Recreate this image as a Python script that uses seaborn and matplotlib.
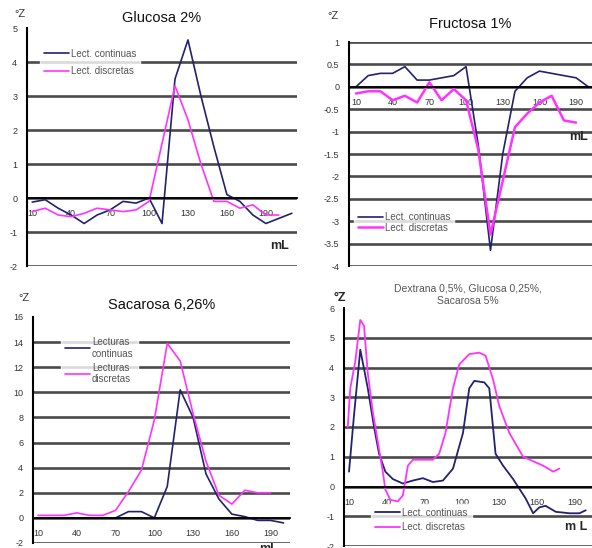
import numpy as np
import pandas as pd
import matplotlib
matplotlib.use("Agg")
import matplotlib.pyplot as plt
import seaborn as sns

# --- data (mL vs °Z) ---
ml_p1 = [10, 20, 30, 40, 50, 60, 70, 80, 90, 100, 110, 120, 130, 140, 150, 160, 170, 180, 190, 200, 210]
glu_cont = [-0.12, -0.05, -0.3, -0.5, -0.75, -0.5, -0.35, -0.1, -0.15, 0.0, -0.75, 3.5, 4.65, 3.0, 1.5, 0.1, -0.1, -0.5, -0.75, -0.6, -0.45]
ml_p1b = [10, 20, 30, 40, 50, 60, 70, 80, 90, 100, 110, 120, 130, 140, 150, 160, 170, 180, 190, 200]
glu_disc = [-0.4, -0.3, -0.5, -0.55, -0.45, -0.3, -0.35, -0.4, -0.35, -0.1, 1.6, 3.3, 2.3, 1.0, -0.1, -0.1, -0.3, -0.2, -0.5, -0.5]

ml_p2 = [10, 20, 30, 40, 50, 60, 70, 80, 90, 100, 110, 120, 130, 140, 150, 160, 170, 180, 190, 200]
fru_cont = [0.0, 0.25, 0.3, 0.3, 0.45, 0.15, 0.15, 0.2, 0.25, 0.45, -1.3, -3.65, -1.5, -0.1, 0.2, 0.35, 0.3, 0.25, 0.2, 0.0]
ml_p2b = [10, 20, 30, 40, 50, 60, 70, 80, 90, 100, 110, 120, 130, 140, 150, 160, 170, 180, 190]
fru_disc = [-0.15, -0.1, -0.1, -0.3, -0.2, -0.35, 0.1, -0.3, -0.05, -0.3, -1.4, -3.3, -2.1, -0.9, -0.6, -0.35, -0.2, -0.75, -0.8]

ml_p3 = [10, 20, 30, 40, 50, 60, 70, 80, 90, 100, 110, 120, 130, 140, 150, 160, 170, 180, 190, 200]
sac_cont = [0.0, 0.0, 0.0, 0.0, 0.0, 0.0, 0.0, 0.5, 0.5, 0.0, 2.5, 10.2, 8.0, 3.5, 1.5, 0.3, 0.1, -0.2, -0.2, -0.4]
ml_p3b = [10, 20, 30, 40, 50, 60, 70, 80, 90, 100, 110, 120, 130, 140, 150, 160, 170, 180, 190]
sac_disc = [0.2, 0.2, 0.2, 0.4, 0.2, 0.2, 0.6, 2.1, 3.8, 7.8, 13.9, 12.5, 8.3, 4.5, 1.8, 1.1, 2.2, 2.0, 2.0]

ml_p4 = [10, 14, 19, 25, 30, 34, 39, 45, 53, 61, 69, 77, 85, 93, 101, 106, 110, 118, 122, 127, 133, 141, 151, 157, 162, 167, 175, 186, 194, 199]
mix_cont = [0.5, 2.4, 4.6, 3.3, 2.0, 1.1, 0.5, 0.25, 0.1, 0.2, 0.28, 0.15, 0.2, 0.6, 1.8, 3.3, 3.55, 3.5, 3.3, 1.1, 0.7, 0.25, -0.4, -0.9, -0.7, -0.65, -0.85, -0.9, -0.9, -0.8]
ml_p4b = [9, 11, 15, 19, 22, 25, 29, 33, 37, 39, 43, 49, 53, 57, 61, 69, 77, 82, 87, 93, 98, 106, 114, 119, 125, 130, 138, 149, 157, 165, 173, 178]
mix_disc = [2.0, 3.3, 4.2, 5.6, 5.4, 3.8, 2.5, 1.5, 0.5, -0.1, -0.45, -0.5, -0.3, 0.7, 0.9, 0.9, 0.9, 1.1, 1.8, 3.3, 4.1, 4.45, 4.5, 4.4, 3.6, 2.7, 1.8, 1.0, 0.85, 0.7, 0.5, 0.6]

x_labels = [10, 40, 70, 100, 130, 160, 190]

BLUE = "#22226e"
PINK = "#ff33ff"
GRID = "#4a4a4a"
TXT = "#333333"

sns.set_style("white")
plt.rcParams["font.family"] = ["Liberation Sans", "DejaVu Sans"]

fig = plt.figure(figsize=(5.92, 5.48), dpi=100)
W, H = 592, 548


def px_axes(left, top, right, bottom):
    return fig.add_axes([left / W, 1 - bottom / H, (right - left) / W, (bottom - top) / H])


def style(ax, xlim, ylim, ystep, hide_top=True):
    ax.set_xlim(*xlim)
    ax.set_ylim(*ylim)
    yt = np.arange(ylim[0], ylim[1] + ystep / 2, ystep)
    ax.set_yticks(yt)
    ax.set_yticklabels([("%g" % v) for v in yt])
    ax.set_xticks(x_labels)
    ax.set_xticks(np.arange(10, xlim[1], 10), minor=True)
    ax.set_xticklabels([str(v) for v in x_labels])
    for s in ["top", "right"]:
        ax.spines[s].set_visible(False)
    ax.spines["left"].set_color("black")
    ax.spines["left"].set_linewidth(1.5)
    ax.spines["bottom"].set_position(("data", 0))
    ax.spines["bottom"].set_color("black")
    ax.spines["bottom"].set_linewidth(1.3)
    ax.grid(True, axis="y", color=GRID, linewidth=1.9)
    ax.set_axisbelow(True)
    if hide_top:
        ax.yaxis.get_gridlines()[-1].set_visible(False)
    ax.tick_params(axis="y", direction="out", length=3, width=1, labelsize=6.5,
                   labelcolor=TXT, pad=4)
    ax.tick_params(axis="x", which="both", direction="out", length=3, width=1,
                   labelsize=6.5, labelcolor=TXT, pad=5)
    ax.set_xlabel("")
    ax.set_ylabel("")


def legend(ax, labels, anchor, loc, spacing=0.3):
    lg = ax.legend(ax.get_lines()[:2], labels, loc=loc, bbox_to_anchor=anchor,
                   frameon=True, fontsize=7, handlelength=2.6, labelspacing=spacing,
                   borderpad=0.4, handletextpad=0.2, fancybox=False)
    lg.get_frame().set_facecolor("white")
    lg.get_frame().set_edgecolor("white")
    for t in lg.get_texts():
        t.set_color("#555555")
        t.set_multialignment("left")
    lg.set_zorder(5)


# --- Glucosa 2% ---
ax1 = px_axes(27, 28, 297, 266)
sns.lineplot(x=ml_p1, y=glu_cont, ax=ax1, color=BLUE, linewidth=1.2)
sns.lineplot(x=ml_p1b, y=glu_disc, ax=ax1, color=PINK, linewidth=1.2)
style(ax1, (6, 214), (-2, 5), 1)
legend(ax1, ["Lect. continuas", "Lect. discretas"], (0.03, 0.95), "upper left", 0.8)
ax1.set_title("Glucosa 2%", fontsize=10.5, pad=4, color="#111111")
fig.text(20 / W, 1 - 14 / H, "°Z", fontsize=8, ha="center", va="center", color=TXT)
ax1.text(0.935, 0.085, "mL", transform=ax1.transAxes, fontsize=9, fontweight="bold",
         ha="center", va="center")

# --- Fructosa 1% ---
ax2 = px_axes(349, 42, 592, 266)
sns.lineplot(x=ml_p2, y=fru_cont, ax=ax2, color=BLUE, linewidth=1.2)
sns.lineplot(x=ml_p2b, y=fru_disc, ax=ax2, color=PINK, linewidth=1.8)
style(ax2, (4.3, 203), (-4, 1), 0.5, hide_top=False)
legend(ax2, ["Lect. continuas", "Lect. discretas"], (0.0, 0.11), "lower left", 0.05)
ax2.set_title("Fructosa 1%", fontsize=10.5, pad=10, color="#111111")
fig.text(333 / W, 1 - 16 / H, "°Z", fontsize=8, ha="center", va="center", color=TXT)
ax2.text(0.945, 0.575, "mL", transform=ax2.transAxes, fontsize=9, fontweight="bold",
         ha="center", va="center")

# --- Sacarosa 6,26% ---
ax3 = px_axes(33, 317, 290, 543)
sns.lineplot(x=ml_p3, y=sac_cont, ax=ax3, color=BLUE, linewidth=1.2)
sns.lineplot(x=ml_p3b, y=sac_disc, ax=ax3, color=PINK, linewidth=1.2)
style(ax3, (6.1, 205), (-2, 16), 2)
legend(ax3, ["Lecturas\ncontinuas", "Lecturas\ndiscretas"], (0.09, 0.95), "upper left", 0.4)
ax3.set_title("Sacarosa 6,26%", fontsize=10.5, pad=6, color="#111111")
fig.text(24 / W, 1 - 298 / H, "°Z", fontsize=8, ha="center", va="center", color=TXT)
ax3.text(0.915, -0.025, "mL", transform=ax3.transAxes, fontsize=9, fontweight="bold",
         ha="center", va="center")

# --- Dextrana + Glucosa + Sacarosa ---
ax4 = px_axes(344, 308, 592, 546)
sns.lineplot(x=ml_p4, y=mix_cont, ax=ax4, color=BLUE, linewidth=1.3)
sns.lineplot(x=ml_p4b, y=mix_disc, ax=ax4, color=PINK, linewidth=1.3)
style(ax4, (6, 204), (-2, 6), 1)
legend(ax4, ["Lect. continuas", "Lect. discretas"], (0.09, 0.02), "lower left", 0.5)
ax4.set_title("Dextrana 0,5%, Glucosa 0,25%,\nSacarosa 5%", fontsize=7.5, pad=3,
              color="#555555", linespacing=1.3)
fig.text(340 / W, 1 - 298 / H, "°Z", fontsize=9, fontweight="bold", ha="center",
         va="center", color="#222222")
ax4.text(0.935, 0.08, "m L", transform=ax4.transAxes, fontsize=9, fontweight="bold",
         ha="center", va="center")

fig.savefig("out.png", dpi=100)
